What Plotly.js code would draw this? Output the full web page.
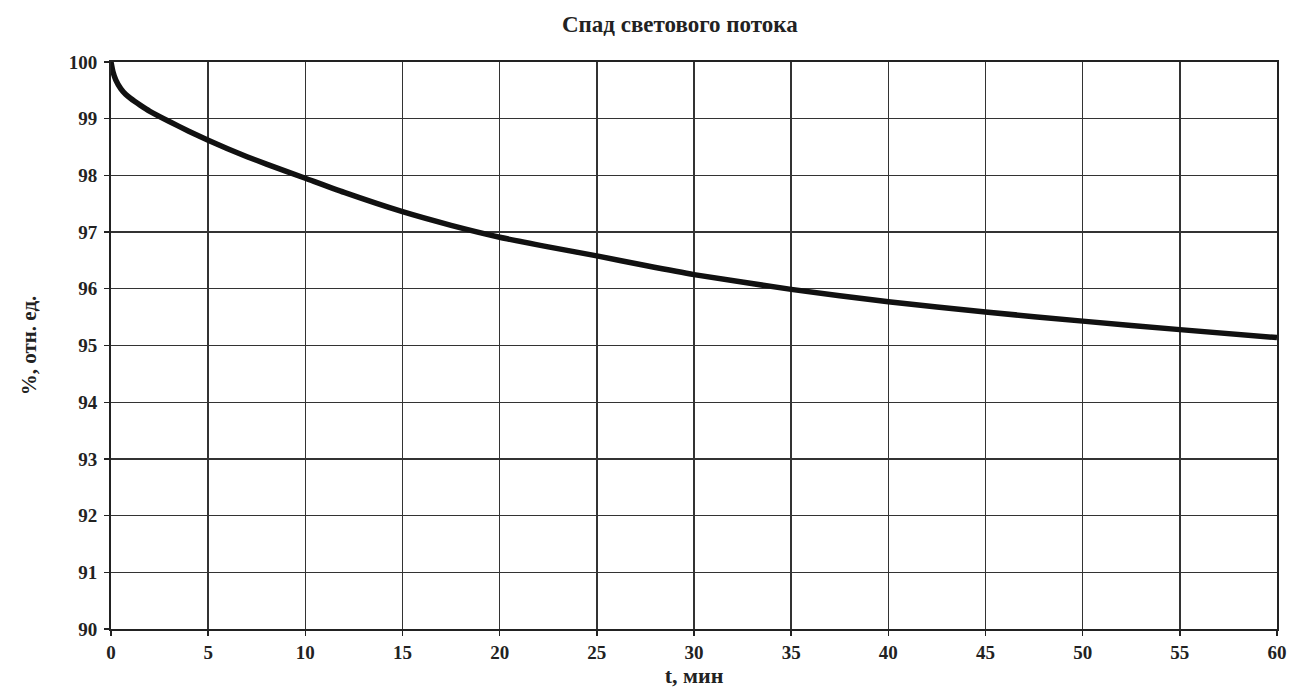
<!DOCTYPE html>
<html>
<head>
<meta charset="utf-8">
<script src="https://cdn.plot.ly/plotly-3.0.1.min.js"></script>
<style>html,body{margin:0;padding:0;background:#fff;}#chart{width:1290px;height:690px;}</style>
</head>
<body>
<div id="chart"></div>
<script>
const tMinutes = [0, 0.1, 0.25, 0.5, 0.75, 1, 1.5, 2, 3, 4, 5, 6, 7, 8, 10, 12, 15, 17.5, 20, 22.5, 25, 27.5, 30, 35, 40, 45, 50, 55, 60];
const fluxPercent = [100, 99.83, 99.68, 99.53, 99.43, 99.36, 99.24, 99.13, 98.95, 98.78, 98.62, 98.47, 98.33, 98.2, 97.95, 97.7, 97.36, 97.12, 96.91, 96.74, 96.58, 96.41, 96.25, 95.99, 95.77, 95.59, 95.43, 95.28, 95.14];
const xTicks = [0, 5, 10, 15, 20, 25, 30, 35, 40, 45, 50, 55, 60];
const yTicks = [90, 91, 92, 93, 94, 95, 96, 97, 98, 99, 100];
const chartTitle = 'Спад светового потока';
const xTitle = 't, мин';
const yTitle = '%, отн. ед.';

const serif = 'Liberation Serif, Times New Roman, serif';
const trace = {
  x: tMinutes, y: fluxPercent, type: 'scatter', mode: 'lines',
  line: {color: '#111', width: 5.5, shape: 'spline', smoothing: 0.6},
  hoverinfo: 'skip'
};
const axisCommon = {
  showgrid: true, gridcolor: '#333', gridwidth: 1.4,
  showline: true, linecolor: '#222', linewidth: 2, mirror: true,
  ticks: 'outside', ticklen: 5, tickwidth: 1.4, tickcolor: '#222',
  zeroline: false,
  tickfont: {family: serif, size: 19, color: '#222', weight: 'bold'}
};
const layout = {
  width: 1290, height: 690,
  margin: {l: 111, r: 13, t: 62, b: 61},
  paper_bgcolor: '#fff', plot_bgcolor: '#fff',
  showlegend: false,
  title: {text: chartTitle, x: 0.527, xanchor: 'center', y: 0.965, yanchor: 'middle',
          font: {family: serif, size: 23, color: '#222', weight: 'bold'}},
  xaxis: Object.assign({}, axisCommon, {
    range: [0, 60], tickvals: xTicks, ticktext: xTicks.map(String),
    title: {text: xTitle, standoff: 3, font: {family: serif, size: 22, color: '#222', weight: 'bold'}}
  }),
  yaxis: Object.assign({}, axisCommon, {
    range: [90, 100], tickvals: yTicks, ticktext: yTicks.map(String),
    ticklabelstandoff: 3,
    title: {text: yTitle, standoff: 26, font: {family: serif, size: 21, color: '#222', weight: 'bold'}}
  })
};
Plotly.newPlot('chart', [trace], layout, {displayModeBar: false, staticPlot: true});
</script>
</body>
</html>
